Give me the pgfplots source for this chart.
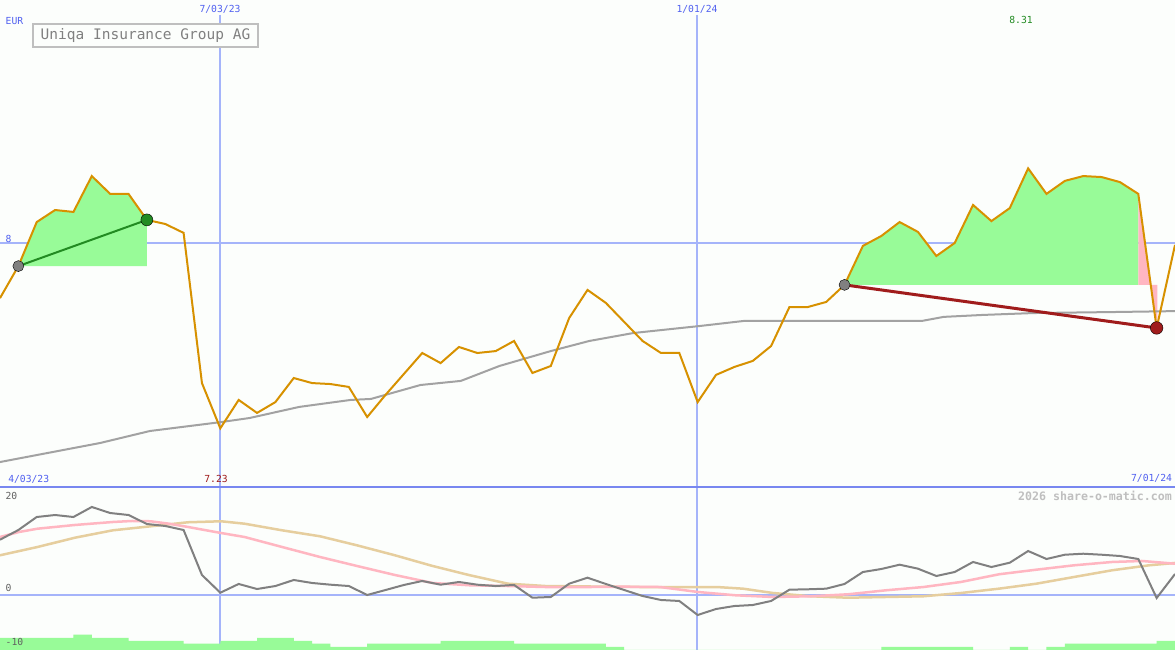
\documentclass[border=0pt]{standalone}
\usepackage{pgfplots}
\pgfplotsset{compat=1.18}
\usepackage{fontspec}
\newfontfamily\mono{DejaVu Sans Mono}
\definecolor{bgc}{RGB}{252,254,252}
\definecolor{gridb}{RGB}{165,180,250}
\definecolor{sepb}{RGB}{120,135,240}
\definecolor{blueT}{RGB}{80,96,240}
\definecolor{priceC}{RGB}{215,145,0}
\definecolor{maC}{RGB}{162,162,162}
\definecolor{oscC}{RGB}{128,128,128}
\definecolor{pinkC}{RGB}{255,182,193}
\definecolor{tanC}{RGB}{230,206,158}
\definecolor{palegr}{RGB}{152,251,152}
\definecolor{fgreen}{RGB}{34,139,34}
\definecolor{dred}{RGB}{160,28,28}
\begin{document}
\begin{tikzpicture}[x=1pt,y=1pt]
\fill[bgc] (0,0) rectangle (1175,650);
% grid lines
\draw[gridb, line width=2pt] (220,635) -- (220,0);
\draw[gridb, line width=2pt] (697,635) -- (697,0);
\draw[gridb, line width=2pt] (0,407) -- (1175,407);
\draw[gridb, line width=2pt] (0,55) -- (1175,55);
% ---------- top panel ----------
\begin{axis}[at={(0,163pt)}, anchor=south west, width=1175pt, height=487pt,
  scale only axis, xmin=0, xmax=64, ymin=6.98629, ymax=9.00955,
  hide axis, clip=false]
\addplot[fill=palegr, draw=none] coordinates {(1,7.904) (2,8.087) (3,8.137) (4,8.129) (5,8.278) (6,8.204) (7,8.204) (8,8.096) (8,7.904)} -- cycle;
\addplot[fill=palegr, draw=none] coordinates {(46,7.826) (47,7.988) (48,8.029) (49,8.087) (50,8.046) (51,7.946) (52,8.000) (53,8.158) (54,8.091) (55,8.145) (56,8.31) (57,8.204) (58,8.258) (59,8.278) (60,8.274) (61,8.253) (62,8.204) (62,7.826)} -- cycle;
\addplot[fill=pinkC, draw=none] coordinates {(62,8.204) (62.68,7.826) (62,7.826)} -- cycle;
\addplot[fill=pinkC, draw=none] coordinates {(62.68,7.826) (63.04,7.826) (63.04,7.66)} -- cycle;
% moving average
\addplot[maC, line width=2pt] coordinates {(0,7.090) (5.45,7.169) (8.17,7.219) (12.04,7.256) (13.6,7.273) (16.3,7.319) (19.1,7.348) (20.2,7.352) (22.9,7.410) (25.1,7.427) (27.2,7.489) (30,7.551) (32.1,7.593) (34.5,7.626) (38.1,7.655) (40.5,7.676) (46.3,7.676) (50.2,7.676) (51.4,7.693) (53.5,7.701) (56.3,7.709) (60.5,7.713) (64,7.717)};
% price
\addplot[priceC, line width=2pt] coordinates {(0,7.771) (1,7.904) (2,8.087) (3,8.137) (4,8.129) (5,8.278) (6,8.204) (7,8.204) (8,8.096) (9,8.079) (10,8.042) (11,7.418) (12,7.23) (13,7.348) (14,7.294) (15,7.339) (16,7.439) (17,7.418) (18,7.414) (19,7.402) (20,7.277) (21,7.369) (22,7.456) (23,7.543) (24,7.501) (25,7.568) (26,7.543) (27,7.551) (28,7.593) (29,7.460) (30,7.489) (31,7.688) (32,7.805) (33,7.751) (34,7.672) (35,7.593) (36,7.543) (37,7.543) (38,7.339) (39,7.452) (40,7.485) (41,7.510) (42,7.572) (43,7.734) (44,7.734) (45,7.755) (46,7.826) (47,7.988) (48,8.029) (49,8.087) (50,8.046) (51,7.946) (52,8.000) (53,8.158) (54,8.091) (55,8.145) (56,8.31) (57,8.204) (58,8.258) (59,8.278) (60,8.274) (61,8.253) (62,8.204) (63,7.647) (64,7.992)};
\addplot[fgreen, line width=2pt] coordinates {(1,7.904) (8,8.096)};
\addplot[dred, line width=3pt] coordinates {(46,7.826) (63,7.647)};
\addplot[only marks, mark=*, mark size=5.5pt, mark options={draw=none, fill=oscC}] coordinates {(1,7.904) (46,7.826)};
\addplot[only marks, mark=*, mark size=6pt, mark options={draw=none, fill=fgreen}] coordinates {(8,8.096)};
\addplot[only marks, mark=*, mark size=6.3pt, mark options={draw=none, fill=dred}] coordinates {(63,7.647)};
\end{axis}
% ---------- bottom panel ----------
\begin{axis}[at={(0,0)}, anchor=south west, width=1175pt, height=163pt,
  scale only axis, xmin=0, xmax=64, ymin=-11.579, ymax=22.737,
  hide axis, clip=false]
\addplot[tanC, line width=2.5pt] coordinates {(0,8.36) (2.05,10.11) (4.08,12.06) (6.15,13.62) (8.2,14.46) (10.24,15.31) (12.04,15.52) (13.32,15.01) (15.36,13.62) (17.43,12.36) (19.44,10.46) (21.51,8.36) (23.56,6.11) (25.6,4.15) (27.67,2.38) (29.71,1.89) (32.14,1.79) (34.91,1.68) (39.04,1.68) (40.47,1.33) (42.1,0.42) (44.16,-0.27) (46.19,-0.57) (50.3,-0.27) (52.34,0.42) (54.41,1.33) (56.45,2.38) (58.5,3.79) (60.57,5.2) (62.58,6.25) (64,6.74)};
\addplot[pinkC, line width=2.5pt] coordinates {(0,12.21) (1.03,13.26) (2.05,13.96) (4.08,14.74) (6.15,15.37) (7.19,15.58) (8.2,15.52) (9.2,15.01) (10.24,14.32) (12.04,13.05) (13.32,12.21) (15.36,10.11) (17.43,8.0) (19.44,6.11) (21.51,4.21) (23.56,2.53) (25.6,2.04) (27.67,1.89) (29.71,1.68) (32.14,1.68) (33.91,1.75) (35.95,1.68) (38.02,0.63) (40.06,-0.06) (42.1,-0.42) (44.16,-0.27) (46.19,0.15) (48.26,0.99) (50.3,1.68) (52.34,2.74) (54.41,4.36) (56.45,5.33) (58.5,6.25) (60.57,6.95) (62.2,7.16) (64,6.59)};
\addplot[oscC, line width=2pt] coordinates {(0,11.64) (1,13.68) (2,16.42) (3,16.84) (4,16.42) (5,18.53) (6,17.26) (7,16.84) (8,14.95) (9,14.53) (10,13.68) (11,4.21) (12,0.48) (13,2.32) (14,1.26) (15,1.89) (16,3.16) (17,2.53) (18,2.17) (19,1.89) (20,0) (21,1.05) (22,2.11) (23,2.95) (24,2.17) (25,2.74) (26,2.17) (27,1.89) (28,2.11) (29,-0.57) (30,-0.42) (31,2.38) (32,3.64) (33,2.32) (34,1.05) (35,-0.21) (36,-1.05) (37,-1.26) (38,-4.21) (39,-2.95) (40,-2.32) (41,-2.11) (42,-1.26) (43,1.12) (44,1.2) (45,1.33) (46,2.32) (47,4.84) (48,5.47) (49,6.38) (50,5.54) (51,4.0) (52,4.84) (53,6.95) (54,5.89) (55,6.8) (56,9.26) (57,7.58) (58,8.48) (59,8.69) (60,8.48) (61,8.21) (62,7.58) (63,-0.63) (64,4.42)};
\end{axis}
% volume bars
\begin{axis}[at={(0,0)}, anchor=south west, width=1175pt, height=163pt,
  scale only axis, xmin=0, xmax=64, ymin=0, ymax=163, hide axis, clip=false]
\addplot[const plot mark left, fill=palegr, draw=none] coordinates {(0,12) (1,12) (2,12) (3,12) (4,15.3) (5,12) (6,12) (7,9) (8,9) (9,9) (10,6.3) (11,6.3) (12,9) (13,9) (14,12) (15,12) (16,9) (17,6.3) (18,3) (19,3) (20,6.3) (21,6.3) (22,6.3) (23,6.3) (24,9) (25,9) (26,9) (27,9) (28,6.3) (29,6.3) (30,6.3) (31,6.3) (32,6.3) (33,3) (34,0) (35,0) (36,0) (37,0) (38,0) (39,0) (40,0) (41,0) (42,0) (43,0) (44,0) (45,0) (46,0) (47,0) (48,3) (49,3) (50,3) (51,3) (52,3) (53,0) (54,0) (55,3) (56,0) (57,3) (58,6.3) (59,6.3) (60,6.3) (61,6.3) (62,6.3) (63,9) (64,9)} \closedcycle;
\end{axis}
% separator
\draw[sepb, line width=2.5pt] (0,163) -- (1175,163);
% texts
\begin{scope}[every node/.style={inner sep=0pt, font=\mono\fontsize{9.7}{11}\selectfont}]
\node[blueT] at (220,641) {7/03/23};
\node[blueT] at (697,641) {1/01/24};
\node[blueT] at (14.5,628.5) {EUR};
\node[blueT] at (8.5,411.5) {8};
\node[fgreen] at (1021,630) {8.31};
\node[dred] at (216,171) {7.23};
\node[blueT] at (28.7,171) {4/03/23};
\node[blueT] at (1151.5,171.5) {7/01/24};
\node[black!62] at (11.5,153.7) {20};
\node[black!62] at (8.5,62) {0};
\node[black!62] at (14.5,8) {-10};
\node[black!25, font=\mono\bfseries\fontsize{11.6}{13}\selectfont] at (1095,154) {2026 share-o-matic.com};
\end{scope}
\node[draw=black!25, line width=2pt, fill=bgc, minimum width=225pt, minimum height=23pt, inner sep=0pt, text=black!50, font=\mono\fontsize{14.5}{16}\selectfont] at (145.5,614) {Uniqa Insurance Group AG};
\pgfresetboundingbox
\path[use as bounding box] (0,0) rectangle (1175,650);
\end{tikzpicture}
\end{document}
